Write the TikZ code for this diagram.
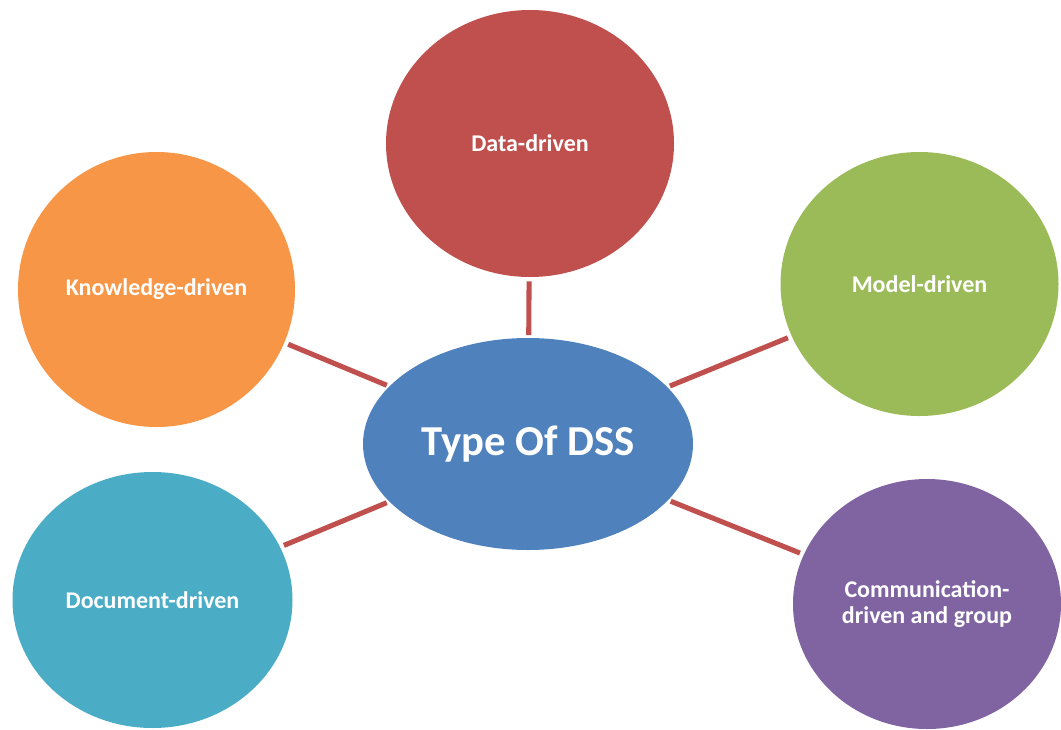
\documentclass[tikz,border=0pt]{standalone}
\usepackage{fontspec}
\setmainfont{Carlito}
\usetikzlibrary{shapes.geometric}
\definecolor{dssblue}{HTML}{4F81BD}
\definecolor{dssred}{HTML}{C0504D}
\definecolor{dssorange}{HTML}{F79646}
\definecolor{dssgreen}{HTML}{9BBB59}
\definecolor{dssteal}{HTML}{4BACC6}
\definecolor{dsspurple}{HTML}{8064A2}
\tikzset{
  blob/.style={ellipse, inner sep=0pt, text=white, align=center,
    font=\bfseries\fontsize{18}{20}\selectfont},
  link/.style={draw=dssred, line width=3.8pt, shorten <=2pt, shorten >=3pt}
}
\begin{document}
\begin{tikzpicture}[x=0.75pt, y=-0.75pt]
  \useasboundingbox (0,0) rectangle (1061,729);
  \clip (0,0) rectangle (1061,729);
  % hub
  \node[blob, fill=dssblue, minimum width=330*0.75pt, minimum height=212*0.75pt,
        font=\bfseries\fontsize{32}{36}\selectfont] (hub) at (528,444) {Type Of DSS};
  % satellites
  \node[blob, fill=dssred, minimum width=288*0.75pt, minimum height=267*0.75pt] (data) at (530,143.5) {Data-driven};
  \node[blob, fill=dssorange, minimum width=277*0.75pt, minimum height=275*0.75pt] (know) at (156.5,289.5) {Knowledge-driven};
  \node[blob, fill=dssgreen, minimum width=278*0.75pt, minimum height=264*0.75pt] (model) at (919.5,284) {Model-driven};
  \node[blob, fill=dssteal, minimum width=280*0.75pt, minimum height=256*0.75pt] (doc) at (152.5,600) {Document-driven};
  \node[blob, fill=dsspurple, minimum width=268*0.75pt, minimum height=250*0.75pt] (comm) at (927,604) {Communication-\\driven and group};
  % connectors
  \draw[link] (hub) -- (data);
  \draw[link] (hub) -- (know);
  \draw[link] (hub) -- (model);
  \draw[link] (hub) -- (doc);
  \draw[link] (hub) -- (comm);
\end{tikzpicture}
\end{document}
